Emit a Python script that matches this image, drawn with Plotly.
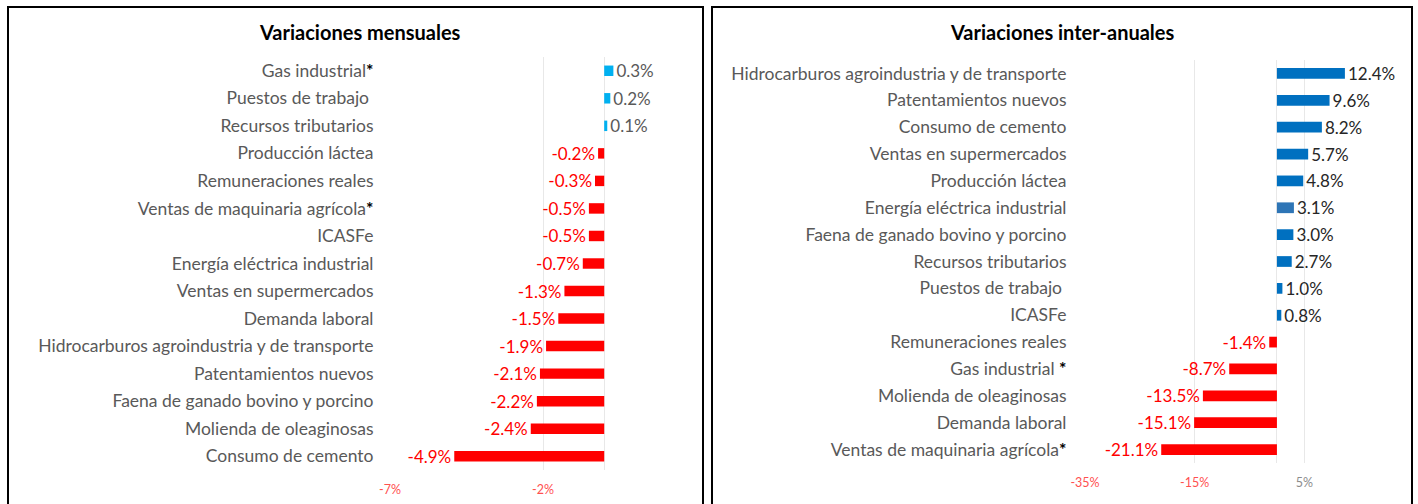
import plotly.graph_objects as go

# ---- Data ----
cats_m = ["Gas industrial<span style='color:#000000'><b>*</b></span>", "Puestos de trabajo ", "Recursos tributarios",
          "Producción láctea", "Remuneraciones reales",
          "Ventas de maquinaria agrícola<span style='color:#000000'><b>*</b></span>", "ICASFe",
          "Energía eléctrica industrial", "Ventas en supermercados", "Demanda laboral",
          "Hidrocarburos agroindustria y de transporte", "Patentamientos nuevos",
          "Faena de ganado bovino y porcino", "Molienda de oleaginosas", "Consumo de cemento"]
vals_m = [0.3, 0.2, 0.1, -0.2, -0.3, -0.5, -0.5, -0.7, -1.3, -1.5, -1.9, -2.1, -2.2, -2.4, -4.9]

cats_a = ["Hidrocarburos agroindustria y de transporte", "Patentamientos nuevos", "Consumo de cemento",
          "Ventas en supermercados", "Producción láctea", "Energía eléctrica industrial",
          "Faena de ganado bovino y porcino", "Recursos tributarios", "Puestos de trabajo ", "ICASFe",
          "Remuneraciones reales", "Gas industrial <span style='color:#000000'><b>*</b></span>",
          "Molienda de oleaginosas", "Demanda laboral",
          "Ventas de maquinaria agrícola<span style='color:#000000'><b>*</b></span>"]
vals_a = [12.4, 9.6, 8.2, 5.7, 4.8, 3.1, 3.0, 2.7, 1.0, 0.8, -1.4, -8.7, -13.5, -15.1, -21.1]

ticks_m = [-7, -2]
ticks_a = [-35, -15, 5]

RED = "#FF0000"
GRAY = "#595959"
FONT = "Lato"


def fmt(v):
    return f"{v:.1f}%"


def tick_text(vals):
    out = []
    for t in vals:
        c = "#FF5050" if t < 0 else "#8C8C8C"
        out.append(f"<span style='color:{c}'>{t}%</span>")
    return out


colors_m = ["#00B0F0" if v > 0 else RED for v in vals_m]
colors_a = []
for c, v in zip(cats_a, vals_a):
    if v < 0:
        colors_a.append(RED)
    elif c.startswith("Energía"):
        colors_a.append("#2E75B6")
    else:
        colors_a.append("#0070C0")

fig = go.Figure()
fig.add_trace(go.Bar(
    y=cats_m, x=vals_m, orientation="h", marker=dict(color=colors_m, line=dict(width=0)),
    width=0.38, text=[fmt(v) for v in vals_m], textposition="outside", constraintext="none",
    textfont=dict(family=FONT, size=17, color=[GRAY if v > 0 else RED for v in vals_m]),
    cliponaxis=False, xaxis="x", yaxis="y", showlegend=False, hoverinfo="skip"))
fig.add_trace(go.Bar(
    y=cats_a, x=vals_a, orientation="h", marker=dict(color=colors_a, line=dict(width=0)),
    width=0.4, text=[fmt(v) for v in vals_a], textposition="outside", constraintext="none",
    textfont=dict(family=FONT, size=17, color=["#262626" if v > 0 else RED for v in vals_a]),
    cliponaxis=False, xaxis="x2", yaxis="y2", showlegend=False, hoverinfo="skip"))

W, H = 1418, 504
axis_common = dict(showgrid=True, gridcolor="#E8E8E8", gridwidth=1, zeroline=True,
                   zerolinecolor="#E8E8E8", zerolinewidth=1, showline=False, automargin=False,
                   ticks="outside", ticklen=8, tickcolor="rgba(0,0,0,0)",
                   tickfont=dict(family=FONT, size=12.5), fixedrange=True)
ycommon = dict(autorange="reversed", showgrid=False, zeroline=False, showline=False, automargin=False,
               ticks="outside", ticklen=12, tickcolor="rgba(0,0,0,0)",
               tickfont=dict(family=FONT, size=17.5, color=GRAY), fixedrange=True)

fig.update_layout(
    template="none",
    width=W, height=H, margin=dict(l=0, r=0, t=0, b=0, pad=0), autosize=False,
    paper_bgcolor="white", plot_bgcolor="white", barmode="overlay",
    font=dict(family=FONT),
    xaxis=dict(domain=[390 / W, 696 / W], range=[-7, 3], tickvals=ticks_m,
               ticktext=tick_text(ticks_m), anchor="y", **axis_common),
    yaxis=dict(domain=[1 - 470 / H, 1 - 57 / H], anchor="x", **ycommon),
    xaxis2=dict(domain=[1085 / W, 1414 / W], range=[-35, 25], tickvals=ticks_a,
                ticktext=tick_text(ticks_a), anchor="y2", **axis_common),
    yaxis2=dict(domain=[1 - 463 / H, 1 - 60 / H], anchor="x2",
                **{**ycommon, "ticklen": 14}),
    annotations=[
        dict(text="<b>Variaciones mensuales</b>", x=360 / W, y=1 - 32 / H, xref="paper", yref="paper",
             showarrow=False, font=dict(family=FONT, size=20, color="#000000"), xanchor="center", yanchor="middle"),
        dict(text="<b>Variaciones inter-anuales</b>", x=1062 / W, y=1 - 32 / H, xref="paper", yref="paper",
             showarrow=False, font=dict(family=FONT, size=20, color="#000000"), xanchor="center", yanchor="middle"),
    ],
    shapes=[
        dict(type="rect", xref="paper", yref="paper", x0=8 / W, x1=703 / W, y0=-0.1, y1=1 - 7 / H,
             line=dict(color="black", width=2), fillcolor="rgba(0,0,0,0)", layer="above"),
        dict(type="rect", xref="paper", yref="paper", x0=712 / W, x1=1412 / W, y0=-0.1, y1=1 - 7 / H,
             line=dict(color="black", width=2), fillcolor="rgba(0,0,0,0)", layer="above"),
    ],
)

fig.write_html("out.html", config={"displayModeBar": False},
               post_script="document.body.style.margin='0';document.body.style.overflow='hidden';")
